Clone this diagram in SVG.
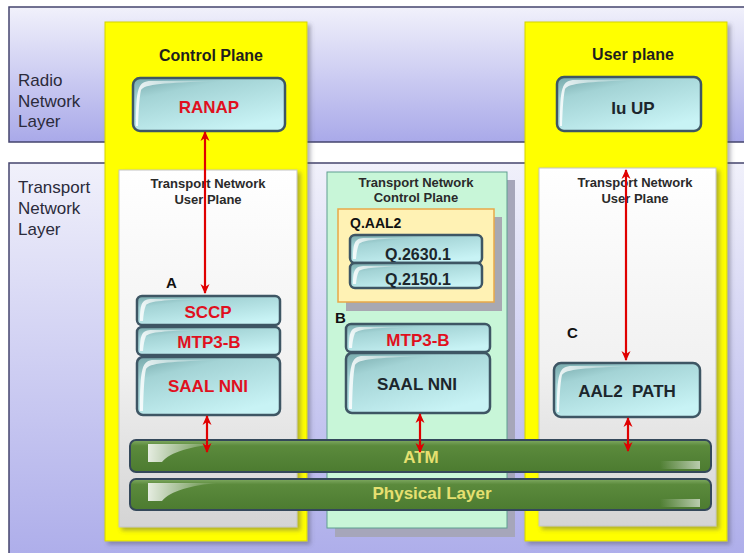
<svg xmlns="http://www.w3.org/2000/svg" width="744" height="553" viewBox="0 0 744 553">
<style>
.lay{font-family:"Liberation Sans",Arial,sans-serif;font-size:17px;fill:#2b2b3b}
.ttl{font-family:"Liberation Sans",Arial,sans-serif;font-size:16px;font-weight:bold;fill:#1e1e1e;text-anchor:middle}
.red{font-family:"Liberation Sans",Arial,sans-serif;font-size:17px;font-weight:bold;fill:#e0101e;text-anchor:middle}
.dk{font-family:"Liberation Sans",Arial,sans-serif;font-size:17px;font-weight:bold;fill:#1c262c;text-anchor:middle}
.q{font-family:"Liberation Sans",Arial,sans-serif;font-size:16px;font-weight:bold;fill:#1c262c;text-anchor:middle}
.sm{font-family:"Liberation Sans",Arial,sans-serif;font-size:13px;font-weight:bold;fill:#2a2a2a;text-anchor:middle}
.yl{font-family:"Liberation Sans",Arial,sans-serif;font-size:17px;font-weight:bold;fill:#e6e070;text-anchor:middle}
.let{font-family:"Liberation Sans",Arial,sans-serif;font-size:15px;font-weight:bold;fill:#111}
.teal{fill:url(#gTeal);stroke:#3e5664;stroke-width:2.5}
.gl{fill:url(#gGloss)}
.bar{fill:url(#gGreen);stroke:#34485a;stroke-width:2}
.ar{stroke:#e00000;stroke-width:2.2;fill:none;marker-start:url(#arr);marker-end:url(#arr)}
.band{stroke:#44446e;stroke-width:1.5}
.yc{fill:#ffff00;stroke:#d4d400;stroke-width:1}
.pn{fill:url(#gPanel);stroke:#c4c4c4;stroke-width:1}
</style>
<defs>
<linearGradient id="gBand" x1="0" y1="0" x2="0" y2="1"><stop offset="0" stop-color="#f1f1fb"/><stop offset="1" stop-color="#a9a9e9"/></linearGradient>
<linearGradient id="gPanel" x1="0" y1="0" x2="0" y2="1"><stop offset="0" stop-color="#ffffff"/><stop offset="0.55" stop-color="#f1f1f1"/><stop offset="1" stop-color="#d4d4d4"/></linearGradient>
<linearGradient id="gTeal" x1="0" y1="0" x2="0.6" y2="1"><stop offset="0" stop-color="#76a8aa"/><stop offset="0.3" stop-color="#a3d3d5"/><stop offset="1" stop-color="#c8f3f5"/></linearGradient>
<linearGradient id="gGreen" x1="0" y1="0" x2="0" y2="1"><stop offset="0" stop-color="#80aa62"/><stop offset="0.18" stop-color="#5b8a3c"/><stop offset="1" stop-color="#4c7b30"/></linearGradient>
<linearGradient id="gGloss" x1="0" y1="0" x2="1" y2="0"><stop offset="0" stop-color="#ffffff" stop-opacity="0.85"/><stop offset="1" stop-color="#ffffff" stop-opacity="0"/></linearGradient>
<linearGradient id="gGlossR" x1="1" y1="0" x2="0" y2="0"><stop offset="0" stop-color="#ffffff" stop-opacity="0.6"/><stop offset="1" stop-color="#ffffff" stop-opacity="0"/></linearGradient>
<filter id="sh" x="-5%" y="-5%" width="115%" height="115%"><feDropShadow dx="3" dy="3" stdDeviation="2" flood-color="#505060" flood-opacity="0.45"/></filter>
<marker id="arr" viewBox="0 0 10 10" refX="9" refY="5" markerWidth="10" markerHeight="10" markerUnits="userSpaceOnUse" orient="auto-start-reverse"><path d="M0,0.5 L10,5 L0,9.5 L3,5 z" fill="#e00000"/></marker>
</defs>

<g id="radio-layer">
<rect class="band" x="9" y="7" width="760" height="135" fill="url(#gBand)"/>
<text class="lay" x="18" y="86">Radio</text>
<text class="lay" x="18" y="106.5">Network</text>
<text class="lay" x="18" y="127">Layer</text>
</g>
<g id="transport-layer">
<rect class="band" x="9" y="163" width="760" height="420" fill="url(#gBand)"/>
<text class="lay" x="18" y="193">Transport</text>
<text class="lay" x="18" y="214">Network</text>
<text class="lay" x="18" y="235">Layer</text>
</g>

<g id="control-plane">
<rect class="yc" x="105" y="22" width="202" height="519" filter="url(#sh)"/>
<text class="ttl" x="211" y="61">Control Plane</text>
</g>
<g id="user-plane">
<rect class="yc" x="525" y="22" width="202" height="519" filter="url(#sh)"/>
<text class="ttl" x="633" y="60">User plane</text>
</g>

<g id="tn-user-plane-left">
<rect class="pn" x="119" y="170" width="178" height="357" filter="url(#sh)"/>
<text class="sm" x="208" y="188">Transport Network</text>
<text class="sm" x="208" y="204">User Plane</text>
</g>
<g id="tn-user-plane-right">
<rect class="pn" x="539" y="168" width="177" height="358" filter="url(#sh)"/>
<text class="sm" x="635" y="187">Transport Network</text>
<text class="sm" x="635" y="203">User Plane</text>
</g>
<g id="tn-control-plane">
<rect x="335" y="180" width="180" height="357" fill="#a6a6ba"/>
<rect x="327" y="172" width="180" height="356" fill="#c8f6d8" stroke="#5e9e90" stroke-width="1"/>
<text class="sm" x="416" y="187">Transport Network</text>
<text class="sm" x="416" y="202">Control Plane</text>
</g>
<g id="qaal2">
<rect x="346" y="217" width="156" height="94" fill="#a8a8b2"/>
<rect x="338" y="209" width="156" height="93" fill="#fff2b4" stroke="#e8a848" stroke-width="1.5"/>
<text class="let" x="350" y="228" style="font-size:14px">Q.AAL2</text>
</g>

<g id="ranap">
<rect class="teal" x="133" y="78" width="152" height="53" rx="7"/>
<path class="gl" d="M136,126 C136,88 138,81 151,81 L217,81 C163,83 145,84 141,90 C139,99 138.5,115 138,126 Z"/>
<text class="red" x="209" y="113">RANAP</text>
</g>
<g id="iuup">
<rect class="teal" x="557" y="77" width="144" height="54" rx="7"/>
<path class="gl" d="M560,126 C560,87 562,80 575,80 L636,80 C587,82 569,83 565,89 C563,98 562.5,114 562,126 Z"/>
<text class="dk" x="633" y="114">Iu UP</text>
</g>

<g id="label-a"><text class="let" x="166" y="288">A</text></g>
<g id="sccp">
<rect class="teal" x="137" y="296" width="143" height="29" rx="5"/>
<path class="gl" d="M140,321 C140,303 142,299 152,299 L200,299 C165,300 150,301 146,305 C144,310 143.5,315 143,321 Z"/>
<text class="red" x="208" y="318">SCCP</text>
</g>
<g id="mtp3b-a">
<rect class="teal" x="137" y="327" width="143" height="28" rx="5"/>
<path class="gl" d="M140,351 C140,334 142,330 152,330 L200,330 C165,331 150,332 146,336 C144,341 143.5,346 143,351 Z"/>
<text class="red" x="209" y="348">MTP3-B</text>
</g>
<g id="saal-a">
<rect class="teal" x="137" y="357" width="143" height="58" rx="6"/>
<path class="gl" d="M140,411 C140,368 142,360 154,360 L215,360 C165,362 150,363 146,369 C144,378 143.5,395 143,411 Z"/>
<text class="red" x="208" y="392">SAAL NNI</text>
</g>

<g id="q2630">
<rect class="teal" x="350" y="235" width="132" height="28" rx="5"/>
<path class="gl" d="M353,259 C353,242 355,238 365,238 L410,238 C378,239 363,240 359,244 C357,249 356.5,254 356,259 Z"/>
<text class="q" x="418" y="260">Q.2630.1</text>
</g>
<g id="q2150">
<rect class="teal" x="350" y="263" width="132" height="25" rx="5"/>
<path class="gl" d="M353,284 C353,270 355,266 365,266 L410,266 C378,267 363,268 359,271 C357,275 356.5,279 356,284 Z"/>
<text class="q" x="418" y="285">Q.2150.1</text>
</g>

<g id="label-b"><text class="let" x="335" y="323">B</text></g>
<g id="mtp3b-b">
<rect class="teal" x="346" y="324" width="144" height="28" rx="5"/>
<path class="gl" d="M349,348 C349,331 351,327 361,327 L410,327 C374,328 359,329 355,333 C353,338 352.5,343 352,348 Z"/>
<text class="red" x="418" y="346">MTP3-B</text>
</g>
<g id="saal-b">
<rect class="teal" x="346" y="353" width="144" height="60" rx="6"/>
<path class="gl" d="M349,409 C349,364 351,356 363,356 L425,356 C374,358 359,359 355,365 C353,375 352.5,392 352,409 Z"/>
<text class="dk" x="417" y="390">SAAL NNI</text>
</g>

<g id="label-c"><text class="let" x="567" y="338">C</text></g>
<g id="aal2path">
<rect class="teal" x="554" y="363" width="146" height="54" rx="7"/>
<path class="gl" d="M557,412 C557,373 559,366 572,366 L634,366 C584,368 566,369 562,375 C560,384 559.5,400 559,412 Z"/>
<text class="dk" x="627" y="397" style="white-space:pre">AAL2  PATH</text>
</g>

<g id="atm">
<rect class="bar" x="130" y="440" width="581" height="32" rx="6"/>
<path class="gl" d="M148,444 L218,444 C192,446 170,452 162,462 L148,462 Z"/>
<rect x="660" y="461" width="40" height="8" fill="url(#gGlossR)"/>
<text class="yl" x="421" y="463">ATM</text>
</g>
<g id="physical">
<rect class="bar" x="130" y="479" width="581" height="31" rx="6"/>
<path class="gl" d="M148,483 L218,483 C192,485 170,491 162,501 L148,501 Z"/>
<rect x="660" y="499" width="40" height="8" fill="url(#gGlossR)"/>
<text class="yl" x="432" y="499">Physical Layer</text>
</g>

<g id="connectors">
<line class="ar" x1="205" y1="132" x2="205" y2="293"/>
<line class="ar" x1="207" y1="416" x2="207" y2="452"/>
<line class="ar" x1="420" y1="414" x2="420" y2="452"/>
<line class="ar" x1="626" y1="170" x2="626" y2="360"/>
<line class="ar" x1="628" y1="418" x2="628" y2="451"/>
</g>
</svg>
